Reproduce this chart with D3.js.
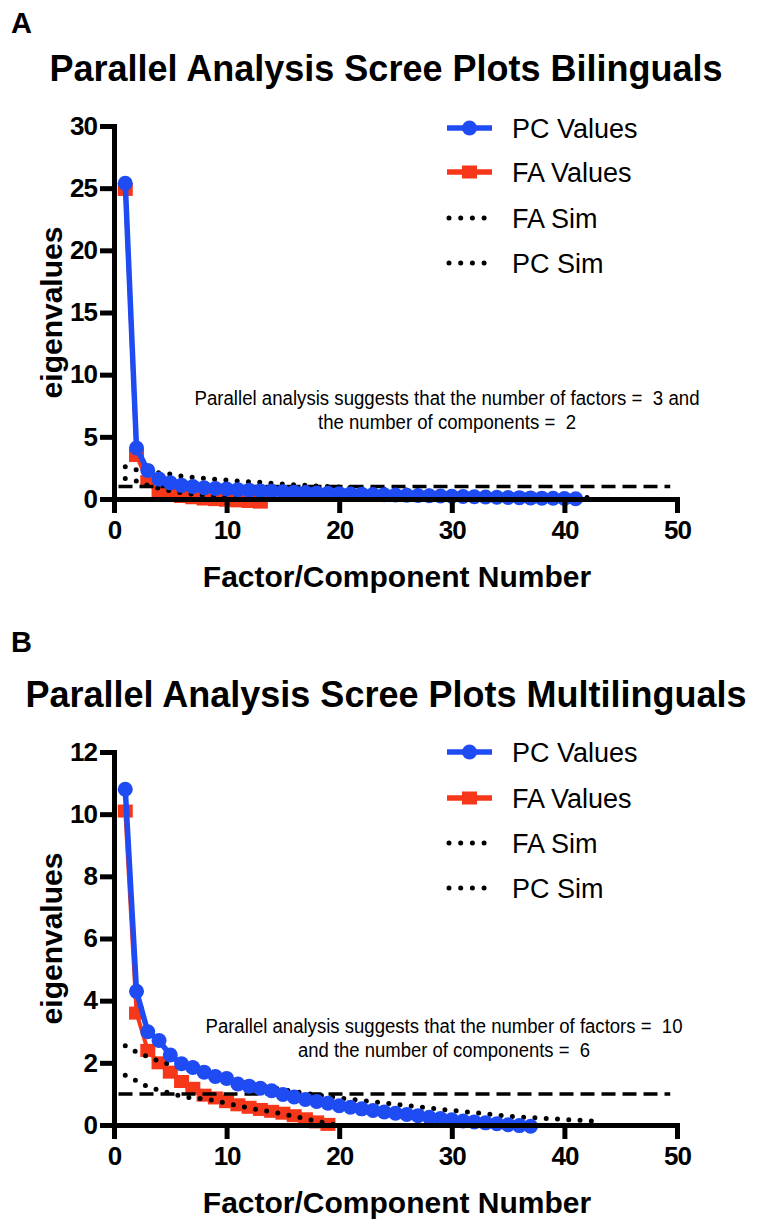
<!DOCTYPE html>
<html>
<head>
<meta charset="utf-8">
<script src="https://cdn.jsdelivr.net/npm/d3@7"></script>
<style>
  html, body { margin: 0; padding: 0; background: #fff; }
  svg { display: block; }
  text { font-family: "Liberation Sans", Arial, Helvetica, sans-serif; }
</style>
</head>
<body>
<svg id="chart" width="760" height="1221"></svg>
<script>
// ---------- DATA ----------
const xTicks = [0, 10, 20, 30, 40, 50];
const yTicksA = [0, 5, 10, 15, 20, 25, 30];
const yTicksB = [0, 2, 4, 6, 8, 10, 12];

// Panel A (Bilinguals)
const pcValuesA = [25.4, 4.1, 2.3, 1.6, 1.3, 1.1, 1.0, 0.9, 0.85, 0.8, 0.75, 0.7, 0.65, 0.62, 0.58, 0.55, 0.52, 0.49, 0.46, 0.43, 0.41, 0.39, 0.36, 0.34, 0.32, 0.3, 0.28, 0.26, 0.24, 0.22, 0.2, 0.18, 0.16, 0.14, 0.12, 0.11, 0.09, 0.07, 0.06, 0.04, 0.02];
const faValuesA = [24.9, 3.5, 1.4, 0.5, 0.3, 0.2, 0.1, 0.0, -0.05, -0.1, -0.15, -0.2, -0.25];
const faSimA = [1.65, 1.45, 1.1, 0.85, 0.65, 0.5, 0.38, 0.28, 0.2, 0.12, 0.06, 0.0, -0.05];
const pcSimA = [2.6, 2.35, 2.2, 2.1, 2.0, 1.85, 1.75, 1.66, 1.58, 1.53, 1.45, 1.39, 1.34, 1.26, 1.2, 1.15, 1.1, 1.05, 1.0, 0.96, 0.92, 0.88, 0.84, 0.8, 0.76, 0.72, 0.68, 0.64, 0.6, 0.56, 0.52, 0.48, 0.44, 0.4, 0.36, 0.32, 0.28, 0.25, 0.22, 0.19, 0.16, 0.13, 0.1];

// Panel B (Multilinguals)
const pcValuesB = [10.8, 4.3, 3.0, 2.72, 2.25, 1.97, 1.85, 1.7, 1.56, 1.5, 1.32, 1.25, 1.18, 1.1, 0.98, 0.9, 0.82, 0.76, 0.7, 0.62, 0.57, 0.52, 0.47, 0.42, 0.38, 0.34, 0.3, 0.25, 0.21, 0.17, 0.13, 0.1, 0.07, 0.04, 0.01, -0.02, -0.04];
const faValuesB = [10.1, 3.6, 2.4, 2.0, 1.7, 1.4, 1.18, 0.96, 0.87, 0.75, 0.65, 0.57, 0.5, 0.44, 0.38, 0.3, 0.2, 0.1, 0.02];
const faSimB = [1.6, 1.42, 1.23, 1.12, 1.02, 0.93, 0.86, 0.85, 0.78, 0.7, 0.62, 0.55, 0.48, 0.42, 0.36, 0.28, 0.2, 0.12, 0.05, 0.0];
const pcSimB = [2.55, 2.35, 2.2, 2.05, 1.95, 1.85, 1.75, 1.65, 1.55, 1.48, 1.4, 1.33, 1.26, 1.2, 1.14, 1.08, 1.02, 0.97, 0.92, 0.87, 0.83, 0.79, 0.75, 0.71, 0.67, 0.63, 0.59, 0.55, 0.5, 0.47, 0.43, 0.4, 0.36, 0.32, 0.28, 0.26, 0.24, 0.22, 0.2, 0.18, 0.16, 0.14, 0.12];

const referenceLine = 1;
const legendLabels = ["PC Values", "FA Values", "FA Sim", "PC Sim"];

const panels = [
  {
    letter: "A", letterY: 33,
    title: "Parallel Analysis Scree Plots Bilinguals",
    yTicks: yTicksA, yMax: 30,
    pc: pcValuesA, fa: faValuesA, faSim: faSimA, pcSim: pcSimA,
    note: ["Parallel analysis suggests that the number of factors =  3 and", "the number of components =  2"],
    top: 0
  },
  {
    letter: "B", letterY: 26,
    title: "Parallel Analysis Scree Plots Multilinguals",
    yTicks: yTicksB, yMax: 12,
    pc: pcValuesB, fa: faValuesB, faSim: faSimB, pcSim: pcSimB,
    note: ["Parallel analysis suggests that the number of factors =  10", "and the number of components =  6"],
    top: 626
  }
];

// ---------- STYLE ----------
const BLUE = "#1f4cf2";
const RED = "#f6371a";
const svg = d3.select("#chart");

panels.forEach((p, pi) => {
  const g = svg.append("g").attr("transform", `translate(0,${p.top})`);
  const x = d3.scaleLinear().domain([0, 50]).range([114, 677]);
  const y = d3.scaleLinear().domain([0, p.yMax]).range([499, 126]);

  // letter + title
  g.append("text").attr("x", 11).attr("y", p.letterY)
    .attr("font-size", 29).attr("font-weight", "bold").text(p.letter);
  g.append("text").attr("x", 386).attr("y", 81).attr("text-anchor", "middle")
    .attr("font-size", 36).attr("font-weight", "bold").text(p.title);

  // series
  const idx = (arr) => arr.map((v, i) => ({ x: i + 1, y: v }));
  const line = d3.line().x(d => x(d.x)).y(d => y(d.y));

  // red FA values
  g.append("path").datum(idx(p.fa)).attr("d", line)
    .attr("fill", "none").attr("stroke", RED).attr("stroke-width", 4);
  g.selectAll(".sq").data(idx(p.fa)).enter().append("rect")
    .attr("x", d => x(d.x) - 7.5).attr("y", d => y(d.y) - 6.5)
    .attr("width", 15).attr("height", 13).attr("fill", RED);

  // simulated (dotted)
  [p.faSim, p.pcSim].forEach(s => {
    g.append("path").datum(idx(s)).attr("d", line)
      .attr("fill", "none").attr("stroke", "#000").attr("stroke-width", 5)
      .attr("stroke-linecap", "round").attr("stroke-dasharray", "0 11.3");
  });

  // reference dashed line at y = 1
  g.append("line").attr("x1", x(0.4)).attr("x2", x(49.4))
    .attr("y1", y(referenceLine)).attr("y2", y(referenceLine))
    .attr("stroke", "#000").attr("stroke-width", 3.5).attr("stroke-dasharray", "14 7");

  // blue PC values
  g.append("path").datum(idx(p.pc)).attr("d", line)
    .attr("fill", "none").attr("stroke", BLUE).attr("stroke-width", 5.5);
  g.selectAll(".ci").data(idx(p.pc)).enter().append("circle")
    .attr("cx", d => x(d.x)).attr("cy", d => y(d.y)).attr("r", 7.5).attr("fill", BLUE);

  // axes
  const xAxis = g.append("g").attr("transform", `translate(0,${y(0)})`)
    .call(d3.axisBottom(x).tickValues(xTicks).tickSize(14).tickSizeOuter(0).tickPadding(8));
  const yAxis = g.append("g").attr("transform", `translate(${x(0)},0)`)
    .call(d3.axisLeft(y).tickValues(p.yTicks).tickSize(14).tickSizeOuter(0).tickPadding(3));
  [xAxis, yAxis].forEach(a => {
    a.select(".domain").attr("stroke", "#000").attr("stroke-width", 5).attr("stroke-linecap", "square");
    a.selectAll(".tick line").attr("stroke", "#000").attr("stroke-width", 5);
    a.selectAll(".tick text").attr("fill", "#000").attr("font-size", 26)
      .attr("font-weight", "bold").attr("font-family", "Liberation Sans, Arial, sans-serif")
      .attr("letter-spacing", -1);
  });

  // axis titles
  g.append("text").attr("x", 397).attr("y", 587).attr("text-anchor", "middle")
    .attr("font-size", 30).attr("font-weight", "bold").text("Factor/Component Number");
  g.append("text").attr("transform", `translate(62,${(y(0) + y(p.yMax)) / 2}) rotate(-90)`)
    .attr("text-anchor", "middle").attr("font-size", 30).attr("font-weight", "bold").text("eigenvalues");

  // annotation
  const noteW = pi === 0 ? [505, 258] : [477, 292];
  const noteX = pi === 0 ? 447 : 444;
  const noteY = pi === 0 ? [405, 429] : [407, 431];
  p.note.forEach((t, i) => {
    g.append("text").attr("x", noteX).attr("y", noteY[i]).attr("text-anchor", "middle")
      .attr("font-size", 20).attr("textLength", noteW[i]).attr("lengthAdjust", "spacingAndGlyphs")
      .style("white-space", "pre").text(t);
  });

  // legend
  const legY = pi === 0 ? [128, 172, 218, 263] : [126, 172, 217, 262];
  legendLabels.forEach((lab, i) => {
    const ly = legY[i];
    const lg = g.append("g");
    if (i === 0) {
      lg.append("line").attr("x1", 447).attr("x2", 492).attr("y1", ly).attr("y2", ly)
        .attr("stroke", BLUE).attr("stroke-width", 5.5);
      lg.append("circle").attr("cx", 469.5).attr("cy", ly).attr("r", 7.5).attr("fill", BLUE);
    } else if (i === 1) {
      lg.append("line").attr("x1", 447).attr("x2", 492).attr("y1", ly).attr("y2", ly)
        .attr("stroke", RED).attr("stroke-width", 5.5);
      lg.append("rect").attr("x", 462).attr("y", ly - 6.5).attr("width", 15).attr("height", 13).attr("fill", RED);
    } else {
      lg.append("line").attr("x1", 449).attr("x2", 486).attr("y1", ly).attr("y2", ly)
        .attr("stroke", "#000").attr("stroke-width", 5).attr("stroke-linecap", "round")
        .attr("stroke-dasharray", "0 11.7");
    }
    lg.append("text").attr("x", 512).attr("y", ly + 10).attr("font-size", 27).text(lab);
  });
});
</script>
</body>
</html>
